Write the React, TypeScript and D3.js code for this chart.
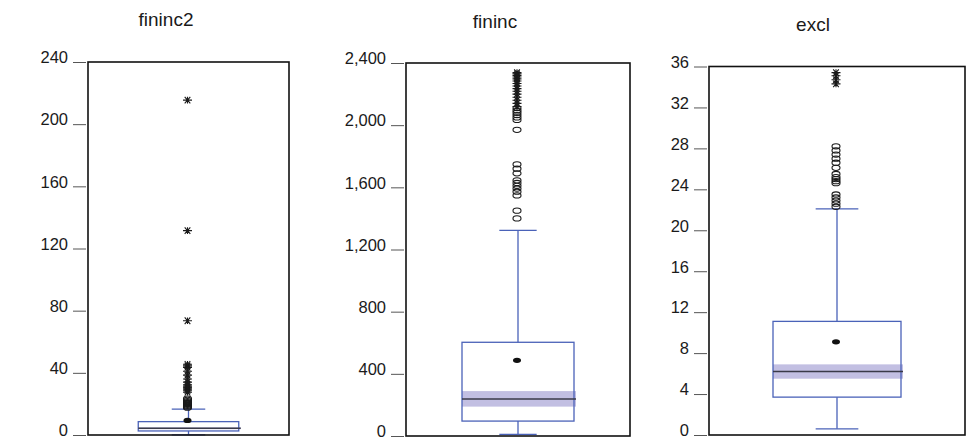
import { useEffect, useRef } from 'react';
import * as d3 from 'd3';

// One box plot per variable
const titles = ['fininc2', 'fininc', 'excl'];
const yMaxes = [240, 2400, 36];
const tickValues = [
  [0, 40, 80, 120, 160, 200, 240],
  [0, 400, 800, 1200, 1600, 2000, 2400],
  [0, 4, 8, 12, 16, 20, 24, 28, 32, 36],
];

const whiskerLow = [0.1, 11, 0.6];
const q1 = [2.6, 96, 3.7];
const medians = [4.3, 238, 6.2];
const q3 = [8.6, 603, 11.1];
const whiskerHigh = [16.7, 1323, 22.1];
const means = [9.4, 487, 9.1];
const ciLow = [3.7, 189, 5.5];
const ciHigh = [4.95, 289, 6.9];

// near outliers (circles) and far outliers (stars)
const nearOutliers = [
  [17.6, 18.2, 18.8, 19.4, 20, 20.6, 21.2, 21.8, 22.6, 23.4],
  [1400, 1450, 1548, 1572, 1592, 1610, 1628, 1645, 1690, 1720, 1748, 1970, 2034, 2050, 2065, 2080, 2095, 2110],
  [22.3, 22.6, 22.9, 23.2, 23.5, 24.6, 24.8, 25.0, 25.2, 25.5, 26.1, 26.6, 27.0, 27.4, 27.8, 28.2],
];
const farOutliers = [
  [27.5, 28.5, 29.5, 30.2, 30.8, 31.5, 32.3, 34, 36, 38.5, 41, 43.5, 44.5, 45.5, 73.5, 131.5, 215.5],
  [2120, 2140, 2160, 2180, 2200, 2218, 2235, 2252, 2268, 2284, 2298, 2310, 2320, 2330, 2338],
  [34.3, 34.7, 35.1, 35.4],
];

// plot frames [left, top, right, bottom]
const frames = [
  [88, 62, 289, 435],
  [406, 63, 630, 436],
  [709, 66.5, 965, 435],
];
const titleX = [166, 495, 813];
const titleY = [26, 28, 31];

const App = () => {
  const svgRef = useRef<SVGSVGElement>(null);

  useEffect(() => {
    const svg = d3.select(svgRef.current);
    svg.selectAll('*').remove();

    titles.forEach((title, i) => {
      const [left, top, right, bottom] = frames[i];
      const w = right - left;
      const cx = left + w / 2;
      const y = d3.scaleLinear().domain([0, yMaxes[i]]).range([bottom, top]);
      const g = svg.append('g');
      const fmt = d3.format(',');

      // Title
      g.append('text')
        .attr('x', titleX[i])
        .attr('y', titleY[i])
        .attr('text-anchor', 'middle')
        .attr('font-size', '19px')
        .attr('fill', '#1a1a1a')
        .text(title);

      // Y axis
      const axis = g.append('g')
        .attr('transform', `translate(${left - 2},0)`)
        .call(d3.axisLeft(y).tickValues(tickValues[i]).tickFormat(d => fmt(d as number)).tickSize(13).tickPadding(5));
      axis.select('.domain').remove();
      axis.selectAll('line').attr('stroke', '#555');
      axis.selectAll('text')
        .attr('font-size', '16.5px')
        .attr('font-family', 'Arial, "Liberation Sans", sans-serif')
        .attr('dy', '0.05em')
        .attr('fill', '#1a1a1a');

      const boxW = w / 2;
      const capW = w / 6;
      const blue = '#4a62b8';

      // Whiskers
      g.append('line')
        .attr('x1', cx).attr('x2', cx)
        .attr('y1', y(whiskerLow[i])).attr('y2', y(q1[i]))
        .attr('stroke', blue).attr('stroke-width', 1.3);
      g.append('line')
        .attr('x1', cx).attr('x2', cx)
        .attr('y1', y(q3[i])).attr('y2', y(whiskerHigh[i]))
        .attr('stroke', blue).attr('stroke-width', 1.3);
      [whiskerLow[i], whiskerHigh[i]].forEach(v => {
        g.append('line')
          .attr('x1', cx - capW / 2).attr('x2', cx + capW / 2)
          .attr('y1', y(v)).attr('y2', y(v))
          .attr('stroke', blue).attr('stroke-width', 1.3);
      });

      // Median confidence band
      g.append('rect')
        .attr('x', cx - boxW / 2)
        .attr('y', y(ciHigh[i]))
        .attr('width', boxW + 2)
        .attr('height', y(ciLow[i]) - y(ciHigh[i]))
        .attr('fill', '#c2bfe2');

      // Box
      g.append('rect')
        .attr('x', cx - boxW / 2)
        .attr('y', y(q3[i]))
        .attr('width', boxW)
        .attr('height', y(q1[i]) - y(q3[i]))
        .attr('fill', 'none')
        .attr('stroke', blue)
        .attr('stroke-width', 1.3);

      // Median
      g.append('line')
        .attr('x1', cx - boxW / 2).attr('x2', cx + boxW / 2 + 2)
        .attr('y1', y(medians[i])).attr('y2', y(medians[i]))
        .attr('stroke', '#3a3a48').attr('stroke-width', 1.6);

      // Mean
      g.append('ellipse')
        .attr('cx', cx - 1).attr('cy', y(means[i]))
        .attr('rx', 4).attr('ry', 2.6)
        .attr('fill', '#111');

      // Near outliers
      g.selectAll('.near')
        .data(nearOutliers[i])
        .enter()
        .append('ellipse')
        .attr('cx', cx - 1)
        .attr('cy', d => y(d))
        .attr('rx', 4).attr('ry', 2.6)
        .attr('fill', 'none')
        .attr('stroke', '#1a1a1a')
        .attr('stroke-width', 1.1);

      // Far outliers (asterisks)
      const star = 'M-4.5,0H4.5M-2.8,-3.3L2.8,3.3M-2.8,3.3L2.8,-3.3M0,-3.3V3.3';
      g.selectAll('.far')
        .data(farOutliers[i])
        .enter()
        .append('path')
        .attr('transform', d => `translate(${cx - 1},${y(d)})`)
        .attr('d', star)
        .attr('stroke', '#1a1a1a')
        .attr('stroke-width', 1.1)
        .attr('fill', 'none');

      // Frame
      g.append('rect')
        .attr('x', left).attr('y', top)
        .attr('width', w).attr('height', bottom - top)
        .attr('fill', 'none')
        .attr('stroke', '#111')
        .attr('stroke-width', 1.6);
    });
  }, []);

  return (
    <svg
      ref={svgRef}
      width={972}
      height={439}
      style={{ position: 'absolute', left: 0, top: 0, background: '#fff', fontFamily: 'Arial, "Liberation Sans", sans-serif' }}
    />
  );
};

export default App;
